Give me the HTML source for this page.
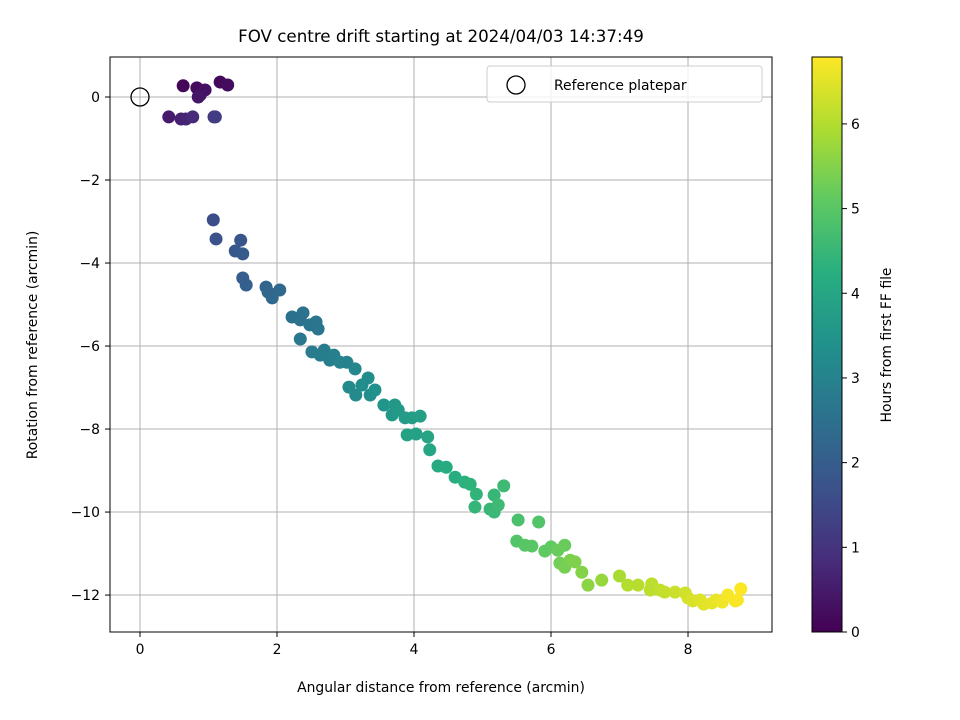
<!DOCTYPE html>
<html><head><meta charset="utf-8"><style>
body{margin:0;background:#fff}
svg{display:block;font-family:"DejaVu Sans","Liberation Sans",sans-serif}
</style></head><body>
<svg id="chart" width="960" height="720">
<defs>
<linearGradient id="vir" x1="0" y1="1" x2="0" y2="0">
<stop offset="0" stop-color="#440154"/><stop offset="0.125" stop-color="#472d7b"/>
<stop offset="0.25" stop-color="#3b528b"/><stop offset="0.375" stop-color="#2c728e"/>
<stop offset="0.5" stop-color="#21918c"/><stop offset="0.625" stop-color="#28ae80"/>
<stop offset="0.75" stop-color="#5ec962"/><stop offset="0.875" stop-color="#addc30"/>
<stop offset="1" stop-color="#fde725"/>
</linearGradient>
</defs>
<text x="441" y="42" text-anchor="middle" font-size="16.7">FOV centre drift starting at 2024/04/03 14:37:49</text>
<g id="grid"></g>
<g id="points"></g>
<rect x="110" y="57" width="662" height="575" fill="none" stroke="#000" stroke-width="1"/>
<g id="ticks"></g>
<text x="441" y="692" text-anchor="middle" font-size="13.9">Angular distance from reference (arcmin)</text>
<text transform="translate(37,345) rotate(-90)" text-anchor="middle" font-size="13.9">Rotation from reference (arcmin)</text>
<g>
<rect x="487" y="66" width="275" height="36" rx="3" fill="#fff" fill-opacity="0.8" stroke="#ccc"/>
<circle cx="516" cy="85" r="9" fill="none" stroke="#000" stroke-width="1.3"/>
<text x="554" y="90" font-size="13.9">Reference platepar</text>
</g>
<rect x="812" y="57" width="30" height="575" fill="url(#vir)" stroke="#000" stroke-width="1"/>
<g id="cbticks"></g>
<text transform="translate(891,345) rotate(-90)" text-anchor="middle" font-size="13.9">Hours from first FF file</text>
</svg>
<script>
const xs=[0.63,0.83,0.95,0.88,0.85,1.17,1.28,0.42,0.6,0.67,0.77,1.08,1.1,1.07,1.11,1.47,1.39,1.5,1.5,1.55,1.84,1.87,1.93,2.04,2.22,2.34,2.38,2.48,2.57,2.6,2.34,2.51,2.63,2.69,2.77,2.83,2.92,3.02,3.14,3.05,3.15,3.24,3.33,3.36,3.43,3.56,3.72,3.68,3.77,3.87,3.97,4.09,3.9,4.03,4.2,4.23,4.35,4.47,4.6,4.74,4.82,4.91,4.89,5.11,5.17,5.17,5.23,5.31,5.52,5.82,5.5,5.62,5.72,5.91,6.0,6.1,6.2,6.13,6.2,6.28,6.35,6.45,6.54,6.74,7.0,7.12,7.27,7.45,7.47,7.59,7.66,7.81,7.96,8.0,8.07,8.18,8.23,8.35,8.41,8.5,8.58,8.69,8.72,8.77];
const ys=[0.27,0.22,0.17,0.05,0.0,0.36,0.29,-0.48,-0.53,-0.53,-0.48,-0.48,-0.48,-2.96,-3.42,-3.45,-3.71,-3.78,-4.36,-4.53,-4.58,-4.7,-4.84,-4.65,-5.3,-5.37,-5.2,-5.49,-5.42,-5.59,-5.83,-6.14,-6.22,-6.1,-6.34,-6.22,-6.39,-6.39,-6.55,-6.99,-7.18,-6.94,-6.77,-7.18,-7.06,-7.42,-7.42,-7.66,-7.54,-7.73,-7.73,-7.69,-8.14,-8.12,-8.19,-8.5,-8.89,-8.92,-9.16,-9.28,-9.33,-9.57,-9.88,-9.93,-10.0,-9.59,-9.83,-9.37,-10.19,-10.24,-10.7,-10.8,-10.82,-10.94,-10.84,-10.92,-10.8,-11.23,-11.33,-11.16,-11.2,-11.45,-11.76,-11.64,-11.54,-11.76,-11.76,-11.88,-11.73,-11.88,-11.93,-11.93,-11.95,-12.07,-12.14,-12.12,-12.22,-12.19,-12.12,-12.17,-12.0,-12.14,-12.12,-11.85];
const hours=[0.1,0.2,0.3,0.35,0.4,0.15,0.2,0.5,0.6,0.7,0.8,1.1,1.2,1.6,1.7,1.8,1.85,1.9,2.0,2.05,2.2,2.25,2.3,2.3,2.5,2.55,2.55,2.6,2.65,2.65,2.7,2.8,2.85,2.85,2.9,2.9,3.0,3.0,3.1,3.2,3.2,3.3,3.3,3.35,3.4,3.5,3.6,3.6,3.65,3.7,3.75,3.8,3.85,3.9,3.95,4.0,4.1,4.15,4.2,4.3,4.35,4.4,4.45,4.5,4.55,4.5,4.6,4.6,4.8,4.9,4.9,5.0,5.0,5.1,5.1,5.2,5.2,5.3,5.35,5.4,5.45,5.5,5.6,5.7,5.9,6.0,6.05,6.1,6.1,6.15,6.2,6.25,6.3,6.35,6.4,6.45,6.5,6.55,6.6,6.65,6.7,6.72,6.75,6.8];
const xTicks=[0,2,4,6,8];
const yTicks=[0,-2,-4,-6,-8,-10,-12];
const cTicks=[0,1,2,3,4,5,6];
const X0=-0.438,X1=9.226,Y0=-12.89,Y1=0.964,HMAX=6.79;
const sx=v=>110+(v-X0)/(X1-X0)*662;
const sy=v=>632-(v-Y0)/(Y1-Y0)*575;
const sc=v=>632-v/HMAX*575;
const vir=[[68,1,84],[71,45,123],[59,82,139],[44,114,142],[33,145,140],[40,174,128],[94,201,98],[173,220,48],[253,231,37]];
function col(t){t=Math.max(0,Math.min(1,t))*8;const i=Math.min(7,Math.floor(t)),f=t-i,a=vir[i],b=vir[i+1];return `rgb(${a.map((v,k)=>Math.round(v+(b[k]-v)*f)).join(',')})`;}
const NS='http://www.w3.org/2000/svg';
function mk(tag,attrs,parent,txt){const e=document.createElementNS(NS,tag);for(const k in attrs)e.setAttribute(k,attrs[k]);if(txt!==undefined)e.textContent=txt;parent.appendChild(e);return e;}
const grid=document.getElementById('grid'),ticks=document.getElementById('ticks'),pts=document.getElementById('points'),cb=document.getElementById('cbticks');
xTicks.forEach(v=>{const x=sx(v);
const g=mk('line',{x1:x,x2:x,y1:57,y2:632,stroke:'#b0b0b0','stroke-width':1},grid);


mk('line',{x1:x,x2:x,y1:632,y2:637,stroke:'#000'},ticks);
const t=mk('text',{x:x,y:654,'text-anchor':'middle','font-size':13.9},ticks,String(v));

});
yTicks.forEach(v=>{const y=sy(v);
const g=mk('line',{x1:110,x2:772,y1:y,y2:y,stroke:'#b0b0b0','stroke-width':1},grid);


mk('line',{x1:105,x2:110,y1:y,y2:y,stroke:'#000'},ticks);
const t=mk('text',{x:100,y:y+5,'text-anchor':'end','font-size':13.9},ticks,(v<0?'\u2212'+(-v):String(v)));

});
xs.forEach((v,i)=>{const c=mk('circle',{cx:sx(v),cy:sy(ys[i]),r:6.5,fill:col(hours[i]/HMAX)},pts);

});
const ref=mk('circle',{cx:sx(0),cy:sy(0),r:9,fill:'none',stroke:'#000','stroke-width':1.3},pts);


cTicks.forEach(v=>{const y=sc(v);
mk('line',{x1:842,x2:847,y1:y,y2:y,stroke:'#000'},cb);
const t=mk('text',{x:851,y:y+5,'font-size':13.9},cb,String(v));

});
</script>
</body></html>
